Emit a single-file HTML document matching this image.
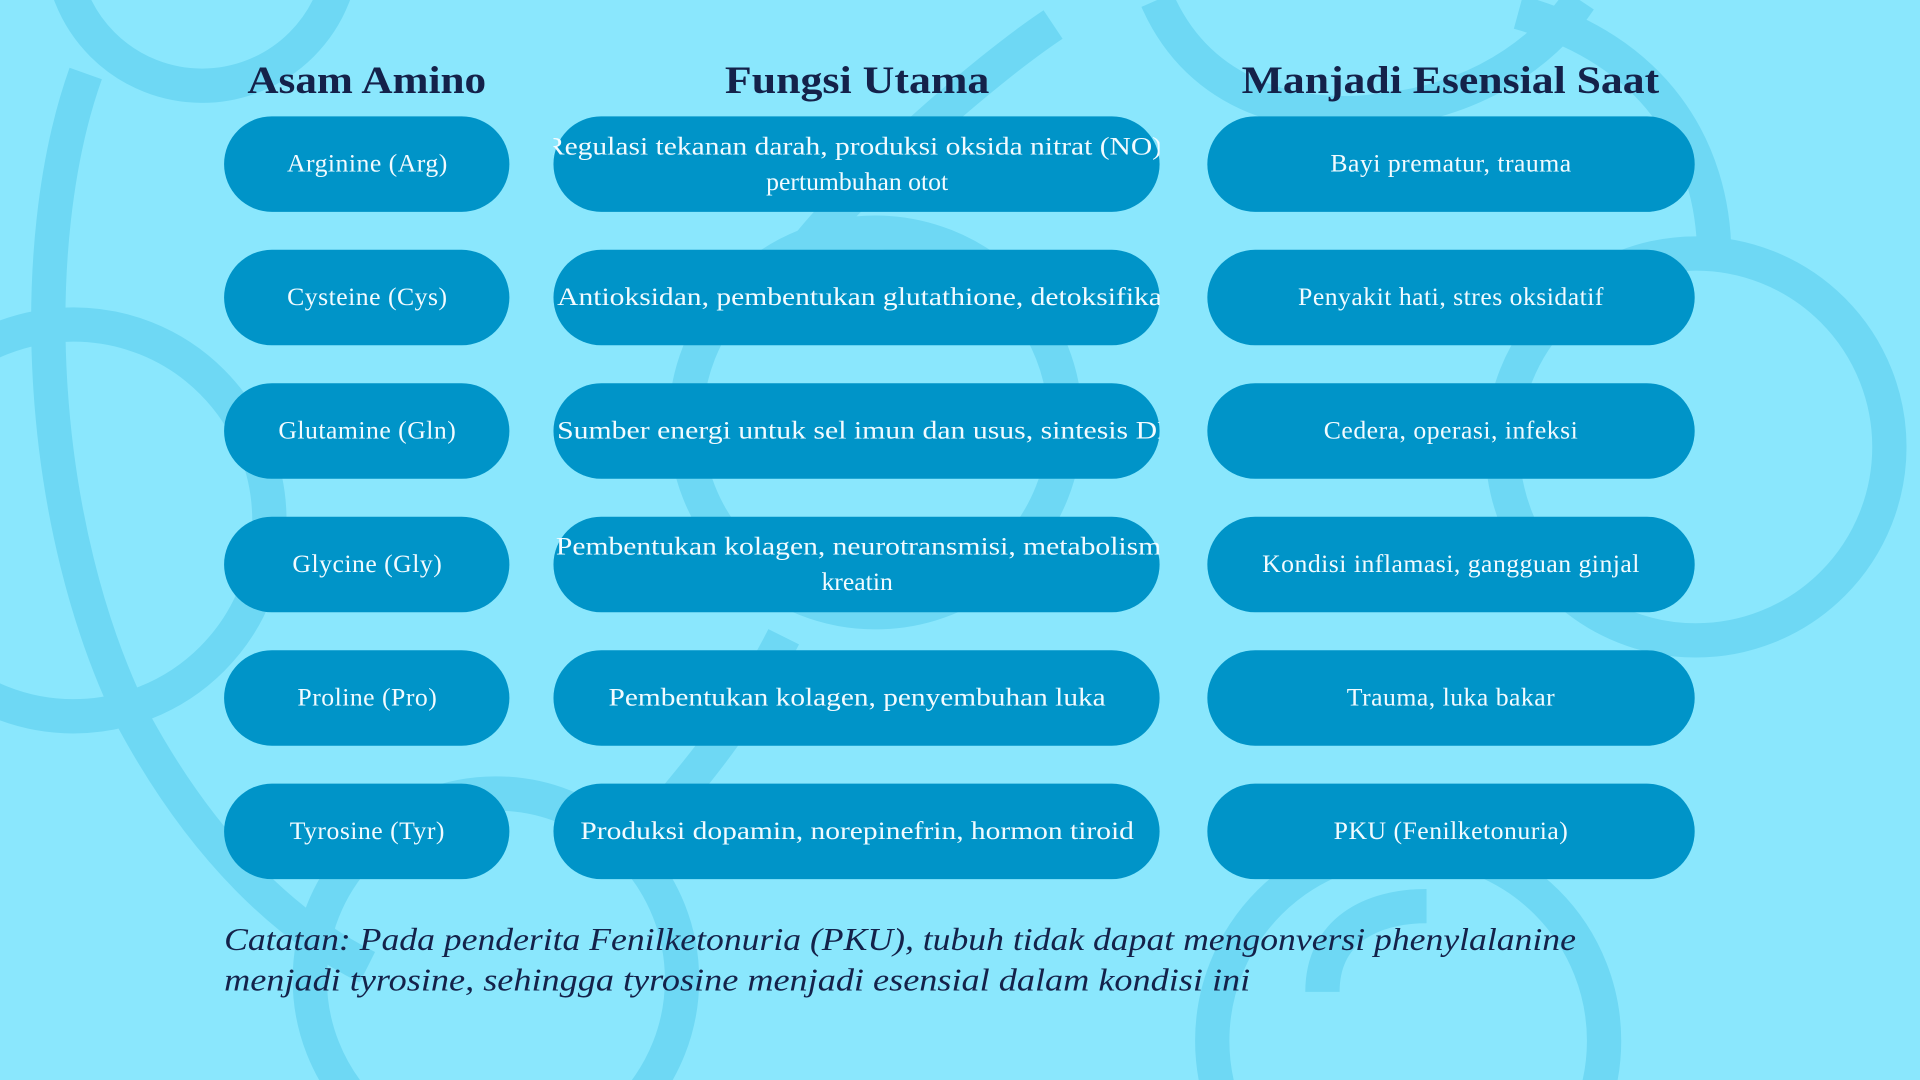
<!DOCTYPE html>
<html><head><meta charset="utf-8"><style>
html,body{margin:0;padding:0;background:#8ae7fd;width:1920px;height:1080px;overflow:hidden;}
svg{display:block;}
</style></head><body>
<svg width="1920" height="1080" viewBox="0 0 1568 882" xmlns="http://www.w3.org/2000/svg">
<rect width="1568" height="882" fill="#8ae7fd"/>
<g fill="none" stroke="#6ed8f4" stroke-width="28">
<circle cx="165" cy="-45" r="115"/>
<path d="M70 60 C 20 200, 30 430, 110 590 C 170 700, 240 760, 300 790"/>
<path d="M860 20 C 800 60, 700 150, 660 200"/>
<circle cx="60" cy="425" r="160"/>
<circle cx="715" cy="345" r="155"/>
<circle cx="1385" cy="365" r="158"/>
<path d="M945 0 C 980 80, 1060 100, 1130 90 C 1220 80, 1270 30, 1290 0"/>
<path d="M1240 10 C 1350 40, 1400 120, 1400 210"/>
<circle cx="405" cy="800" r="152"/>
<circle cx="1150" cy="850" r="160"/>
<path d="M1080 810 C 1080 760, 1120 740, 1165 740"/>
<path d="M640 520 C 600 600, 560 640, 520 690"/>
</g>
<g font-family="'Liberation Serif', serif" font-weight="bold" font-size="32" fill="#14224a">
<text x="202" y="76" textLength="195" lengthAdjust="spacingAndGlyphs">Asam Amino</text>
<text x="592" y="76" textLength="216" lengthAdjust="spacingAndGlyphs">Fungsi Utama</text>
<text x="1014" y="76" textLength="341" lengthAdjust="spacingAndGlyphs">Manjadi Esensial Saat</text>
</g>
<g fill="#0094c8">
<rect x="183" y="95" width="233" height="78" rx="39"/>
<rect x="452" y="95" width="495" height="78" rx="39"/>
<rect x="986" y="95" width="398" height="78" rx="39"/>
<rect x="183" y="204" width="233" height="78" rx="39"/>
<rect x="452" y="204" width="495" height="78" rx="39"/>
<rect x="986" y="204" width="398" height="78" rx="39"/>
<rect x="183" y="313" width="233" height="78" rx="39"/>
<rect x="452" y="313" width="495" height="78" rx="39"/>
<rect x="986" y="313" width="398" height="78" rx="39"/>
<rect x="183" y="422" width="233" height="78" rx="39"/>
<rect x="452" y="422" width="495" height="78" rx="39"/>
<rect x="986" y="422" width="398" height="78" rx="39"/>
<rect x="183" y="531" width="233" height="78" rx="39"/>
<rect x="452" y="531" width="495" height="78" rx="39"/>
<rect x="986" y="531" width="398" height="78" rx="39"/>
<rect x="183" y="640" width="233" height="78" rx="39"/>
<rect x="452" y="640" width="495" height="78" rx="39"/>
<rect x="986" y="640" width="398" height="78" rx="39"/>
</g>
<defs><clipPath id="c2"><rect x="452" y="0" width="495" height="882"/></clipPath></defs>
<g font-family="'Liberation Serif', serif" font-size="21" letter-spacing="0.4" fill="#f2fbff" text-anchor="middle">
<text x="300" y="140">Arginine (Arg)</text>
<text x="300" y="249">Cysteine (Cys)</text>
<text x="300" y="358">Glutamine (Gln)</text>
<text x="300" y="467">Glycine (Gly)</text>
<text x="300" y="576">Proline (Pro)</text>
<text x="300" y="685">Tyrosine (Tyr)</text>
<g clip-path="url(#c2)" letter-spacing="0">
<text x="445" y="126" text-anchor="start" textLength="510" lengthAdjust="spacingAndGlyphs">Regulasi tekanan darah, produksi oksida nitrat (NO),</text>
<text x="700" y="155">pertumbuhan otot</text>
<text x="455" y="249" text-anchor="start" textLength="510" lengthAdjust="spacingAndGlyphs">Antioksidan, pembentukan glutathione, detoksifikasi</text>
<text x="455" y="358" text-anchor="start" textLength="525" lengthAdjust="spacingAndGlyphs">Sumber energi untuk sel imun dan usus, sintesis DNA</text>
<text x="454" y="453" text-anchor="start" textLength="505" lengthAdjust="spacingAndGlyphs">Pembentukan kolagen, neurotransmisi, metabolisme</text>
<text x="700" y="482">kreatin</text>
<text x="497" y="576" text-anchor="start" textLength="406" lengthAdjust="spacingAndGlyphs">Pembentukan kolagen, penyembuhan luka</text>
<text x="474" y="685" text-anchor="start" textLength="452" lengthAdjust="spacingAndGlyphs">Produksi dopamin, norepinefrin, hormon tiroid</text>
</g>
<text x="1185" y="140">Bayi prematur, trauma</text>
<text x="1185" y="249">Penyakit hati, stres oksidatif</text>
<text x="1185" y="358">Cedera, operasi, infeksi</text>
<text x="1185" y="467">Kondisi inflamasi, gangguan ginjal</text>
<text x="1185" y="576">Trauma, luka bakar</text>
<text x="1185" y="685">PKU (Fenilketonuria)</text>
</g>
<g font-family="'Liberation Serif', serif" font-style="italic" font-size="26" fill="#14224a">
<text x="183" y="776" textLength="1104" lengthAdjust="spacingAndGlyphs">Catatan: Pada penderita Fenilketonuria (PKU), tubuh tidak dapat mengonversi phenylalanine</text>
<text x="183" y="809" textLength="838" lengthAdjust="spacingAndGlyphs">menjadi tyrosine, sehingga tyrosine menjadi esensial dalam kondisi ini</text>
</g>
</svg>
</body></html>
